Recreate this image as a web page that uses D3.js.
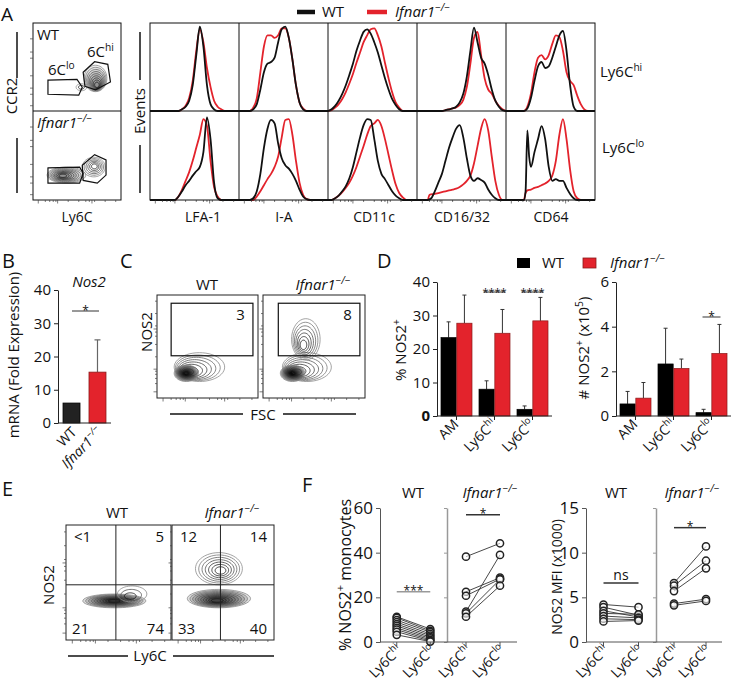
<!DOCTYPE html>
<html><head><meta charset="utf-8">
<script src="https://cdn.jsdelivr.net/npm/d3@7"></script>
<style>
body{margin:0;background:#fff;}
svg{display:block;font-family:"Open Sans",sans-serif;}
</style></head><body>
<svg id="c" width="733" height="691"></svg>
<script>
// ---------------- DATA ----------------
const genotypes = ["WT","Ifnar1"];
// Panel A histograms (intensity %, normalized count)
const markers = ["LFA-1","I-A","CD11c","CD16/32","CD64"];
const histRows = ["Ly6Chi","Ly6Clo"];
const histHiWT = [
 [[0,0],[32,0],[36,.02],[40,.05],[44,.12],[48,.3],[52,.65],[56,.98],[60,.75],[64,.3],[68,.08],[72,.02],[76,0],[100,0]],
 [[0,0],[12,0],[16,.02],[20,.08],[24,.25],[28,.45],[32,.55],[36,.57],[40,.62],[44,.8],[48,.95],[52,.98],[56,.85],[60,.6],[64,.3],[68,.1],[72,.02],[76,0],[100,0]],
 [[0,0],[4,.02],[8,.06],[12,.12],[16,.2],[20,.3],[24,.42],[28,.55],[32,.7],[36,.82],[40,.92],[44,.95],[48,.9],[52,.8],[56,.68],[60,.53],[64,.38],[68,.25],[72,.14],[76,.07],[80,.02],[84,0],[100,0]],
 [[0,0],[28,0],[32,.01],[36,.02],[40,.03],[44,.05],[48,.1],[52,.2],[56,.4],[60,.7],[64,.97],[68,.8],[72,.62],[76,.55],[80,.42],[84,.25],[88,.12],[92,.05],[96,.01],[100,0]],
 [[0,0],[20,0],[24,.03],[28,.15],[32,.35],[36,.52],[40,.57],[44,.5],[48,.52],[52,.62],[56,.75],[60,.88],[64,.93],[68,.7],[72,.3],[76,.05],[80,0],[100,0]]
];
const histHiKO = [
 [[0,0],[32,0],[36,.02],[40,.06],[44,.15],[48,.35],[52,.7],[56,.95],[60,.8],[64,.5],[68,.28],[72,.12],[76,.05],[80,.02],[84,0],[100,0]],
 [[0,0],[12,0],[16,.04],[20,.15],[24,.45],[28,.75],[32,.88],[36,.88],[40,.85],[44,.88],[48,.96],[52,.96],[56,.85],[60,.6],[64,.3],[68,.1],[72,.03],[76,0],[100,0]],
 [[0,0],[4,.01],[8,.04],[12,.08],[16,.14],[20,.22],[24,.32],[28,.43],[32,.56],[36,.68],[40,.8],[44,.88],[48,.95],[52,.96],[56,.88],[60,.75],[64,.56],[68,.38],[72,.22],[76,.1],[80,.04],[84,0],[100,0]],
 [[0,0],[28,0],[32,.01],[36,.02],[40,.03],[44,.04],[48,.07],[52,.13],[56,.28],[60,.55],[64,.85],[68,.92],[72,.65],[76,.38],[80,.25],[84,.2],[88,.12],[92,.06],[96,.02],[100,0]],
 [[0,0],[20,0],[24,.05],[28,.2],[32,.45],[36,.62],[40,.65],[44,.6],[48,.65],[52,.78],[56,.88],[60,.86],[64,.7],[68,.45],[72,.35],[76,.3],[80,.18],[84,.08],[88,.02],[92,0],[100,0]]
];
const histLoWT = [
 [[0,0],[28,0],[32,.04],[36,.1],[40,.17],[44,.22],[48,.28],[52,.33],[56,.38],[60,.55],[64,.95],[68,.7],[72,.2],[76,.02],[80,0],[100,0]],
 [[0,0],[12,0],[16,.02],[20,.1],[24,.3],[28,.6],[32,.82],[36,.92],[40,.88],[44,.65],[48,.48],[52,.4],[56,.36],[60,.3],[64,.22],[68,.12],[72,.04],[76,.01],[80,0],[100,0]],
 [[0,0],[4,0],[8,.02],[12,.05],[16,.1],[20,.16],[24,.25],[28,.38],[32,.55],[36,.72],[40,.86],[44,.93],[48,.92],[52,.7],[56,.45],[60,.3],[64,.24],[68,.17],[72,.1],[76,.05],[80,.02],[84,0],[100,0]],
 [[0,0],[12,0],[16,.02],[20,.1],[24,.2],[28,.3],[32,.45],[36,.6],[40,.72],[44,.82],[48,.86],[52,.72],[56,.48],[60,.28],[64,.22],[68,.25],[72,.23],[76,.2],[80,.12],[84,.06],[88,.02],[92,0],[100,0]],
 [[0,0],[20,0],[22,.1],[24,.8],[26,.5],[28,.38],[32,.55],[36,.7],[40,.85],[44,.7],[48,.38],[52,.22],[56,.24],[60,.22],[64,.22],[68,.14],[72,.07],[76,.02],[80,0],[100,0]]
];
const histLoKO = [
 [[0,0],[28,0],[32,.04],[36,.12],[40,.22],[44,.32],[48,.45],[52,.6],[56,.75],[60,.93],[64,.85],[68,.45],[72,.15],[76,.04],[80,0],[100,0]],
 [[0,0],[16,0],[20,.04],[24,.1],[28,.17],[32,.24],[36,.3],[40,.38],[44,.5],[48,.72],[52,.92],[56,.93],[60,.75],[64,.45],[68,.2],[72,.06],[76,.01],[80,0],[100,0]],
 [[0,0],[4,0],[8,.02],[12,.05],[16,.09],[20,.14],[24,.2],[28,.28],[32,.38],[36,.5],[40,.62],[44,.75],[48,.85],[52,.88],[56,.92],[60,.85],[64,.7],[68,.52],[72,.34],[76,.18],[80,.08],[84,.03],[88,0],[100,0]],
 [[0,0],[12,0],[14,.06],[20,.07],[24,.08],[28,.09],[32,.1],[36,.11],[40,.12],[44,.13],[48,.15],[52,.18],[56,.22],[60,.28],[64,.42],[68,.62],[72,.82],[76,.93],[80,.8],[84,.5],[88,.22],[92,.06],[96,0],[100,0]],
 [[0,0],[20,0],[22,.08],[24,.11],[28,.12],[32,.14],[36,.15],[40,.17],[44,.19],[48,.22],[52,.28],[56,.45],[60,.75],[64,.93],[68,.7],[72,.35],[76,.1],[80,.02],[84,0],[100,0]]
];
const logTicks = [6,14,19,23,26,28,40,52,60,64,67,70,82,94];

// Panel A contour plots (Ly6C %, CCR2 %)
const aBlobsWT = [{cx:71,cy:37,rx:13,ry:15,kx:73,ky:28,n:9,dense:0.06},{cx:55,cy:27,rx:6,ry:4,n:2}];
const aBlobsKO = [{cx:38,cy:28,rx:22,ry:9,kx:33,ky:27,n:9,dense:0.06},{cx:69,cy:37,rx:13,ry:11,kx:70,ky:38,n:6}];
const aGateHiWT = [[57,44],[70,56],[85,53],[88,33],[71,24],[59,28]];
const aGateLoWT = [[17,35],[50,36],[56,27],[52,18],[17,19]];
const aGateHiKO = [[56,39],[70,51],[83,45],[83,28],[73,19],[57,22]];
const aGateLoKO = [[17,36],[53,37],[57,30],[53,19],[17,19]];

// Panel B
const bMean = [6, 15.3];
const bErrTop = [6, 25];
const bTicks = [0,10,20,30,40];

// Panel C (FSC %, NOS2 %)
const cBlobsWT = [{cx:42,cy:30,rx:25,ry:14,kx:28,ky:24,n:8},{cx:29,cy:24,rx:12,ry:8,n:12,dense:0.16}];
const cBlobsKO = [{cx:43,cy:30,rx:24,ry:14,kx:30,ky:24,n:8},{cx:29,cy:24,rx:12,ry:8,n:12,dense:0.16},{cx:42,cy:57,rx:14,ry:20,kx:39,ky:50,n:7}];
const cGateWT = [14,95,41,92];
const cGateKO = [15,95,41,92];
const cPct = ["3","8"];

// Panel D
const dCells = ["AM","Ly6Chi","Ly6Clo"];
const dPctWT = [23.4, 8.0, 2.0], dPctWTerr = [28.1, 10.5, 3.0];
const dPctKO = [27.7, 24.7, 28.4], dPctKOerr = [36.1, 31.8, 35.4];
const dNumWT = [0.54, 2.33, 0.15], dNumWTerr = [1.1, 3.93, 0.3];
const dNumKO = [0.8, 2.13, 2.8], dNumKOerr = [1.5, 2.55, 4.1];
const dPctTicks = [0,10,20,30,40], dNumTicks = [0,2,4,6];

// Panel E (Ly6C %, NOS2 %)
const eBlobsWT = [{cx:46,cy:34,rx:30,ry:6,n:10,dense:0.14},{cx:63,cy:40,rx:14,ry:7,kx:60,ky:37,n:3}];
const eBlobsKO = [{cx:46,cy:36,rx:31,ry:8,kx:44,ky:34,n:10,dense:0.12},{cx:46,cy:62,rx:23,ry:14,kx:48,ky:60,n:7}];
const eQuadWT = ["<1","5","21","74"];
const eQuadKO = ["12","14","33","40"];

// Panel F
const fCats = ["Ly6Chi","Ly6Clo"];
const fPctWThi = [11.3,10.8,9.8,8.9,8.0,7.2,6.3,5.5,4.6,3.2];
const fPctWTlo = [5.8,5.0,4.4,3.6,2.9,2.2,1.6,1.0,0.5,0.2];
const fPctKOhi = [38.2,22.5,20.7,13.6,12.8,11.3];
const fPctKOlo = [44.2,28.8,28.2,39.0,28.0,25.2];
const fMfiWThi = [4.2,3.9,3.5,3.2,2.9,2.6,2.3];
const fMfiWTlo = [3.9,3.0,2.8,3.1,2.7,2.5,2.4];
const fMfiKOhi = [6.6,6.3,5.7,4.3,4.1];
const fMfiKOlo = [10.7,9.1,8.25,4.8,4.6];
const fPctTicks = [0,20,40,60], fMfiTicks = [0,5,10,15];

// ---------------- HELPERS ----------------
const svg = d3.select("#c");
const RED = "#e3232c", BLK = "#111", REDLINE = "#8a1a1a";
const fmt = d3.format("~g");

function parts(str){
  if (str === "Ifnar1") return [{t:"Ifnar1",i:1},{t:"−/−",sup:1,i:1}];
  const m = /^(Ly6C|6C)(hi|lo)$/.exec(str);
  if (m) return [{t:m[1]},{t:m[2],sup:1}];
  return [{t:str}];
}
function txt(x, y, str, o = {}) {
  const size = o.size || 14;
  const t = svg.append("text").attr("x", x).attr("y", y).attr("font-size", size)
    .attr("text-anchor", o.anchor || "start").attr("fill", o.fill || BLK);
  if (o.weight) t.attr("font-weight", o.weight);
  if (o.rotate) t.attr("transform", `rotate(${o.rotate},${x},${y})`);
  const ps = Array.isArray(str) ? str : parts(str);
  let up = 0;
  ps.forEach(p => {
    const s = t.append("tspan").text(p.t);
    if (p.i) s.attr("font-style", "italic");
    if (p.sup) { s.attr("font-size", size * 0.68).attr("dy", -size * 0.42); up += size * 0.42; }
    else if (up) { s.attr("dy", up); up = 0; }
  });
  return t;
}
function line(x1, y1, x2, y2, col = BLK, w = 1) {
  svg.append("line").attr("x1", x1).attr("y1", y1).attr("x2", x2).attr("y2", y2)
    .attr("stroke", col).attr("stroke-width", w);
}
function box(x0, y0, x1, y1, col = BLK, w = 1) {
  svg.append("rect").attr("x", x0).attr("y", y0).attr("width", x1 - x0).attr("height", y1 - y0)
    .attr("fill", "none").attr("stroke", col).attr("stroke-width", w);
}
function drawBlobs(xs, ys, blobs) {
  blobs.forEach(b => {
    const kx = b.kx ?? b.cx, ky = b.ky ?? b.cy;
    for (let k = 0; k < b.n; k++) {
      const f = 1 - k / b.n * 0.9;
      const cx = b.cx + (kx - b.cx) * (1 - f), cy = b.cy + (ky - b.cy) * (1 - f);
      const pts = d3.range(48).map(j => {
        const a = j / 48 * 2 * Math.PI;
        return [xs(cx + b.rx * f * Math.cos(a)), ys(cy + b.ry * f * Math.sin(a))];
      });
      svg.append("path").attr("d", d3.line().curve(d3.curveCardinalClosed)(pts))
        .attr("fill", b.dense ? "#000" : "none").attr("fill-opacity", b.dense || 0)
        .attr("stroke", d3.interpolateRgb("#8c8c8c", "#111")(b.n > 1 ? k / (b.n - 1) : 0))
        .attr("stroke-width", 0.8);
    }
  });
}
function poly(xs, ys, pts) {
  svg.append("path").attr("d", d3.line().curve(d3.curveLinearClosed)(pts.map(p => [xs(p[0]), ys(p[1])])))
    .attr("fill", "none").attr("stroke", BLK).attr("stroke-width", 1.2);
}
function flowTicks(xs, ys, x0, y1, yLen = true) {
  logTicks.forEach((v, i) => {
    const L = (i % 5 === 0) ? 3.5 : 2;
    line(xs(v), y1, xs(v), y1 + L, "#444", 0.7);
    if (yLen) line(x0, ys(v), x0 - L, ys(v), "#444", 0.7);
  });
}
function styleAxis(g, size, col) {
  g.selectAll("text").attr("font-size", size).attr("fill", BLK).attr("font-family", "Open Sans");
  g.selectAll("line").attr("stroke", col);
  g.select(".domain").attr("stroke", col);
}

// ---------------- PANEL A ----------------
txt(1, 21, "A", {size: 19});
// legend
line(297, 12, 315, 12, BLK, 4.5);
txt(322, 17, "WT", {size: 15});
line(367, 12, 387, 12, RED, 4.5);
txt(395, 17, "Ifnar1", {size: 15});

// contour plots
const axA = d3.scaleLinear([0, 100], [33, 121]);
const ayA = [d3.scaleLinear([0, 100], [111, 23]), d3.scaleLinear([0, 100], [200, 111])];
drawBlobs(axA, ayA[0], aBlobsWT);
drawBlobs(axA, ayA[1], aBlobsKO);
poly(axA, ayA[0], aGateHiWT); poly(axA, ayA[0], aGateLoWT);
poly(axA, ayA[1], aGateHiKO); poly(axA, ayA[1], aGateLoKO);
box(33, 23, 121, 200);
line(33, 111, 121, 111);
flowTicks(axA, ayA[0], 33, 200, false);
[ayA[0], ayA[1]].forEach(ys => logTicks.filter((v,i)=>i%2===0).forEach((v, i) => line(33, ys(v), 30, ys(v), "#444", 0.7)));
txt(37, 40, "WT", {size: 15});
txt(37, 128, "Ifnar1", {size: 15});
txt(87, 57, "6Chi", {size: 15});
txt(48, 75, "6Clo", {size: 15});
txt(17, 96, "CCR2", {size: 15, anchor: "middle", rotate: -90});
line(17, 32, 17, 78, BLK, 1.5); line(17, 138, 17, 193, BLK, 1.5);
txt(77, 222, "Ly6C", {size: 14, anchor: "middle"});
txt(145, 111, "Events", {size: 15, anchor: "middle", rotate: -90});
line(140, 32, 140, 80, BLK, 1.5); line(140, 145, 140, 193, BLK, 1.5);

// histograms
const rowBounds = [[23, 111], [111, 200]];
const histSets = [[histHiWT, histHiKO], [histLoWT, histLoKO]];
markers.forEach((mk, i) => {
  const xs = d3.scaleLinear([0, 100], [150 + i * 89, 150 + (i + 1) * 89]);
  rowBounds.forEach((rb, r) => {
    const ys = d3.scaleLinear([0, 1], [rb[1], rb[0] + 2]);
    const ln = d3.line().x(d => xs(d[0])).y(d => ys(d[1])).curve(d3.curveMonotoneX);
    svg.append("path").attr("d", ln(histSets[r][1][i])).attr("fill", "none").attr("stroke", RED).attr("stroke-width", 1.8);
    svg.append("path").attr("d", ln(histSets[r][0][i])).attr("fill", "none").attr("stroke", BLK).attr("stroke-width", 1.8);
  });
  logTicks.forEach((v, k) => line(xs(v), 200, xs(v), 200 + (k % 5 === 0 ? 3.5 : 2), "#444", 0.7));
});
box(150, 23, 595, 200);
line(150, 111, 595, 111);
markers.forEach((mk, i) => { if (i > 0) line(150 + i * 89, 23, 150 + i * 89, 200); });
const labX = [203, 284, 374, 462, 551];
markers.forEach((mk, i) => txt(labX[i], 222, mk, {size: 14, anchor: "middle"}));
txt(600, 77, histRows[0], {size: 15});
txt(602, 153, histRows[1], {size: 15});

// ---------------- PANEL B ----------------
txt(2, 268, "B", {size: 20});
txt(89, 287, [{t: "Nos2", i: 1}], {size: 15, anchor: "middle"});
const yB = d3.scaleLinear([0, 40], [423, 290]);
const xB = d3.scaleBand(genotypes, [58, 111]).paddingInner(0.346).paddingOuter(0.193);
genotypes.forEach((g, i) => {
  const cx = xB(g) + xB.bandwidth() / 2;
  if (bErrTop[i] > bMean[i]) {
    line(cx, yB(bMean[i]), cx, yB(bErrTop[i]), "#666", 1.2);
    line(cx - 3, yB(bErrTop[i]), cx + 3, yB(bErrTop[i]), "#666", 1.2);
  }
  svg.append("rect").attr("x", xB(g)).attr("y", yB(bMean[i])).attr("width", xB.bandwidth())
    .attr("height", yB(0) - yB(bMean[i])).attr("fill", i ? RED : "#222").attr("stroke", i ? REDLINE : "#000").attr("stroke-width", 0.8);
  txt(cx + 6, 433, g, {size: 14, anchor: "end", rotate: -45});
});
const gB = svg.append("g").attr("transform", "translate(58,0)").call(d3.axisLeft(yB).tickValues(bTicks).tickFormat(fmt).tickSize(4).tickSizeOuter(0).tickPadding(3));
styleAxis(gB, 15, "#222");
line(58, 423, 111, 423, "#222");
line(72, 311, 99, 311, "#333");
txt(85.5, 315, "*", {size: 12, anchor: "middle"});
txt(19, 355, "mRNA (Fold Expression)", {size: 15, anchor: "middle", rotate: -90});

// ---------------- PANEL C ----------------
txt(120, 268, "C", {size: 20});
const cBoxes = [[157, 258], [263, 365]];
const ycC = d3.scaleLinear([0, 100], [398, 295]);
[[cBlobsWT, cGateWT], [cBlobsKO, cGateKO]].forEach((pair, i) => {
  const xs = d3.scaleLinear([0, 100], cBoxes[i]);
  drawBlobs(xs, ycC, pair[0]);
  const gt = pair[1];
  box(xs(gt[0]), ycC(gt[3]), xs(gt[1]), ycC(gt[2]), BLK, 1.2);
  box(cBoxes[i][0], 295, cBoxes[i][1], 398, "#222", 1);
  flowTicks(xs, ycC, cBoxes[i][0], 398);
  txt(xs(gt[1]) - 8, 320, cPct[i], {size: 15, anchor: "end"});
});
txt(207, 290, "WT", {size: 15, anchor: "middle"});
txt(323, 290, "Ifnar1", {size: 15, anchor: "middle"});
txt(152, 332, "NOS2", {size: 15, anchor: "middle", rotate: -90});
txt(263, 420, "FSC", {size: 15, anchor: "middle"});
line(170, 414, 243, 414, BLK, 1.5); line(283, 414, 356, 414, BLK, 1.5);

// ---------------- PANEL D ----------------
txt(377, 268, "D", {size: 20});
svg.append("rect").attr("x", 517).attr("y", 258).attr("width", 13).attr("height", 10).attr("fill", "#000");
txt(542, 268, "WT", {size: 15});
svg.append("rect").attr("x", 583).attr("y", 258).attr("width", 13).attr("height", 10).attr("fill", RED).attr("stroke", REDLINE).attr("stroke-width", 0.8);
txt(610, 268, "Ifnar1", {size: 15});

function barChart(x0, x1, yDom, ticks, wt, wtErr, ko, koErr, boldZero) {
  const ys = d3.scaleLinear(yDom, [416, 282]);
  const xg = d3.scaleBand(dCells, [x0, x1]).paddingInner(0.184).paddingOuter(0.105);
  const xi = d3.scaleBand(genotypes, [0, xg.bandwidth()]).paddingInner(0.04);
  dCells.forEach((c, j) => {
    [[wt, wtErr], [ko, koErr]].forEach((s, k) => {
      const bx = xg(c) + xi(genotypes[k]), bw = xi.bandwidth(), cx = bx + bw / 2;
      line(cx, ys(s[0][j]), cx, ys(s[1][j]), "#333", 1);
      line(cx - 2, ys(s[1][j]), cx + 2, ys(s[1][j]), "#333", 1);
      svg.append("rect").attr("x", bx).attr("y", ys(s[0][j])).attr("width", bw).attr("height", ys(0) - ys(s[0][j]))
        .attr("fill", k ? RED : "#000").attr("stroke", k ? REDLINE : "#000").attr("stroke-width", 0.7);
    });
    const gc = xg(c) + xg.bandwidth() / 2;
    line(gc, 416, gc, 420, "#222");
    txt(gc + 3, 425, c, {size: 14, anchor: "end", rotate: -45});
  });
  const g = svg.append("g").attr("transform", `translate(${x0},0)`).call(d3.axisLeft(ys).tickValues(ticks).tickFormat(fmt).tickSize(4).tickSizeOuter(0).tickPadding(3));
  styleAxis(g, 15, "#222");
  if (boldZero) g.selectAll(".tick text").filter(d => d === 0).attr("font-weight", "bold");
  line(x0, 416, x1, 416, "#222");
  return {ys, xg};
}
const dl = barChart(437, 552, [0, 40], dPctTicks, dPctWT, dPctWTerr, dPctKO, dPctKOerr, true);
const dr = barChart(616, 731, [0, 6], dNumTicks, dNumWT, dNumWTerr, dNumKO, dNumKOerr, false);
[1, 2].forEach(j => {
  const gc = dl.xg(dCells[j]) + dl.xg.bandwidth() / 2;
  line(gc - 11, 292, gc + 11, 292, "#333");
  txt(gc, 296, "****", {size: 11, anchor: "middle"});
});
{
  const gc = dr.xg(dCells[2]) + dr.xg.bandwidth() / 2;
  line(gc - 9, 317, gc + 9, 317, "#777", 1.5);
  txt(gc, 321, "*", {size: 12, anchor: "middle"});
}
txt(406, 350, [{t: "% NOS2"}, {t: "+", sup: 1}], {size: 15, anchor: "middle", rotate: -90});
txt(589, 348, [{t: "# NOS2"}, {t: "+", sup: 1}, {t: "  (x10"}, {t: "5", sup: 1}, {t: ")"}], {size: 15, anchor: "middle", rotate: -90});

// ---------------- PANEL E ----------------
txt(2, 496, "E", {size: 20});
const eBoxes = [[66, 171], [172, 274]];
const yE = d3.scaleLinear([0, 100], [640, 525]);
[[eBlobsWT, eQuadWT], [eBlobsKO, eQuadKO]].forEach((pair, i) => {
  const xs = d3.scaleLinear([0, 100], eBoxes[i]);
  drawBlobs(xs, yE, pair[0]);
  box(eBoxes[i][0], 525, eBoxes[i][1], 640, "#222");
  line(xs(47.5), 525, xs(47.5), 640, "#222");
  line(eBoxes[i][0], yE(48), eBoxes[i][1], yE(48), "#222");
  flowTicks(xs, yE, eBoxes[i][0], 640);
  const q = pair[1];
  txt(eBoxes[i][0] + 8, 542, q[0], {size: 15});
  txt(eBoxes[i][1] - 7, 542, q[1], {size: 15, anchor: "end"});
  txt(eBoxes[i][0] + 6, 634, q[2], {size: 15});
  txt(eBoxes[i][1] - 7, 634, q[3], {size: 15, anchor: "end"});
});
txt(117, 518, "WT", {size: 15, anchor: "middle"});
txt(232, 518, "Ifnar1", {size: 15, anchor: "middle"});
txt(54, 585, "NOS2", {size: 15, anchor: "middle", rotate: -90});
txt(150, 661, "Ly6C", {size: 15, anchor: "middle"});
line(68, 656, 128, 656, BLK, 1.5); line(173, 656, 274, 656, BLK, 1.5);

// ---------------- PANEL F ----------------
txt(302, 492, "F", {size: 20});
function pairedPanel(axisX, mid, end, yDom, ticks, sets, sigs) {
  const ys = d3.scaleLinear(yDom, [642, 508]);
  const ranges = [[axisX, mid], [mid + 2, end]];
  sets.forEach((s, k) => {
    const xs = d3.scalePoint(fCats, ranges[k]).padding(0.5);
    s[0].forEach((v, j) => line(xs(fCats[0]), ys(v), xs(fCats[1]), ys(s[1][j]), "#333", 0.9));
    [0, 1].forEach(c => s[c].forEach(v => svg.append("circle").attr("cx", xs(fCats[c])).attr("cy", ys(v)).attr("r", 3.6)
      .attr("fill", "#fff").attr("fill-opacity", 0.6).attr("stroke", "#222").attr("stroke-width", 1.5)));
    fCats.forEach(c => {
      line(xs(c), 642, xs(c), 646, "#555");
      txt(xs(c) + 6, 651, c, {size: 14, anchor: "end", rotate: -45});
    });
    const sg = sigs[k];
    line(xs(fCats[0]), ys(sg[0]), xs(fCats[1]), ys(sg[0]), sg[2], 1.5);
    const mx = (xs(fCats[0]) + xs(fCats[1])) / 2;
    if (sg[1] === "ns") txt(mx, ys(sg[0]) - 3, "ns", {size: 14, anchor: "middle"});
    else txt(mx, ys(sg[0]) + 3, sg[1], {size: 12, anchor: "middle"});
  });
  const g = svg.append("g").attr("transform", `translate(${axisX},0)`).call(d3.axisLeft(ys).tickValues(ticks).tickFormat(fmt).tickSize(4).tickSizeOuter(0).tickPadding(3));
  styleAxis(g, 17, "#555");
  const g2 = svg.append("g").attr("transform", `translate(${mid},0)`).call(d3.axisLeft(ys).tickValues(ticks).tickSize(3).tickSizeOuter(0).tickFormat(""));
  styleAxis(g2, 10, "#999");
  g2.select(".domain").attr("stroke-width", 1.5);
  line(axisX, 642, end, 642, "#555");
}
pairedPanel(380, 447, 517, [0, 60], fPctTicks, [[fPctWThi, fPctWTlo], [fPctKOhi, fPctKOlo]], [[22.5, "***", "#999"], [57, "*", "#333"]]);
pairedPanel(586, 656, 722, [0, 15], fMfiTicks, [[fMfiWThi, fMfiWTlo], [fMfiKOhi, fMfiKOlo]], [[6.6, "ns", "#333"], [12.8, "*", "#333"]]);
txt(413, 498, "WT", {size: 15, anchor: "middle"});
txt(490, 498, "Ifnar1", {size: 15, anchor: "middle"});
txt(616, 498, "WT", {size: 15, anchor: "middle"});
txt(692, 498, "Ifnar1", {size: 15, anchor: "middle"});
txt(351, 575, [{t: "% NOS2"}, {t: "+", sup: 1}, {t: " monocytes"}], {size: 16, anchor: "middle", rotate: -90});
txt(562, 577, "NOS2 MFI (x1000)", {size: 14, anchor: "middle", rotate: -90});
</script>
</body></html>
